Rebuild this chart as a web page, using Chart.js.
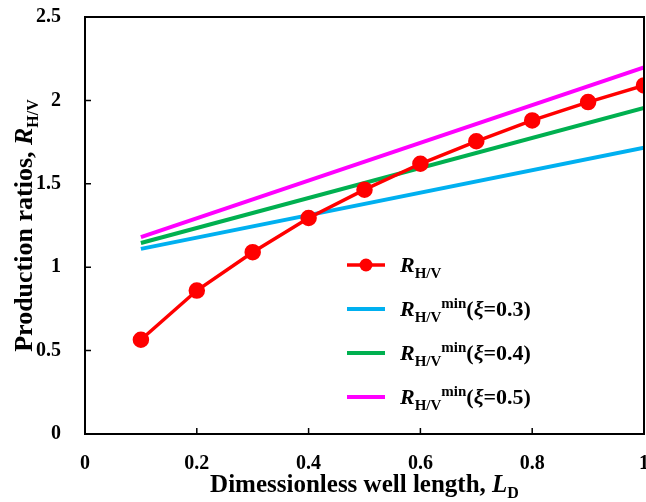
<!DOCTYPE html>
<html>
<head>
<meta charset="utf-8">
<script src="https://cdn.jsdelivr.net/npm/chart.js@4"></script>
<style>
  html, body { margin: 0; padding: 0; background: #fff; }
  #wrap { width: 646px; height: 502px; }
</style>
</head>
<body>
<div id="wrap"><canvas id="chart" width="646" height="502"></canvas></div>
<script>
// data
const xValues = [0.1, 0.2, 0.3, 0.4, 0.5, 0.6, 0.7, 0.8, 0.9, 1.0];
const ratioValues = [0.565, 0.86, 1.09, 1.295, 1.465, 1.62, 1.755, 1.88, 1.99, 2.09];
const lineEnds = [0.1, 1.0];
const min03 = [1.11, 1.717];
const min04 = [1.145, 1.955];
const min05 = [1.18, 2.198];
const xTicks = [0, 0.2, 0.4, 0.6, 0.8, 1];
const xTickLabels = ['0', '0.2', '0.4', '0.6', '0.8', '1'];
const yTicks = [0, 0.5, 1, 1.5, 2, 2.5];
const yTickLabels = ['0', '0.5', '1', '1.5', '2', '2.5'];

const SERIF = '"Liberation Serif", "Times New Roman", serif';

function pts(xs, ys) {
    return xs.map((x, i) => ({ x: x, y: ys[i] }));
}

// rich text: list of [text, font, dy]
function richWidth(ctx, segs) {
    let w = 0;
    segs.forEach(s => { ctx.font = s[1]; w += ctx.measureText(s[0]).width; });
    return w;
}
function drawRich(ctx, segs, x, y) {
    segs.forEach(s => {
        ctx.font = s[1];
        ctx.fillText(s[0], x, y + (s[2] || 0));
        x += ctx.measureText(s[0]).width;
    });
}

const XB = 'bold 25px ' + SERIF;
const XBI = 'italic bold 25px ' + SERIF;
const YB = 'bold 26px ' + SERIF;
const YBI = 'italic bold 26px ' + SERIF;
const SB = 'bold 16px ' + SERIF;
const LS = 'bold 15px ' + SERIF;
const LB = 'bold 22px ' + SERIF;
const LBI = 'italic bold 22px ' + SERIF;

function minLabel(xi) {
    return [['R', LBI, 0], ['H/V', LS, 6], ['min', LS, -8], ['(', LB, 0], ['ξ', LBI, 0], ['=' + xi + ')', LB, 0]];
}

const datasets = [
    {
        label: 'R_H/V',
        data: pts(xValues, ratioValues),
        borderColor: '#ff0000',
        backgroundColor: '#ff0000',
        borderWidth: 3.5,
        pointRadius: 6.5,
        pointHoverRadius: 6.5,
        legendText: [['R', LBI, 0], ['H/V', LS, 6]]
    },
    {
        label: 'R_H/V^min(xi=0.3)',
        data: pts(lineEnds, min03),
        borderColor: '#00b0f0',
        borderWidth: 4,
        pointRadius: 0,
        legendText: minLabel('0.3')
    },
    {
        label: 'R_H/V^min(xi=0.4)',
        data: pts(lineEnds, min04),
        borderColor: '#00b050',
        borderWidth: 4,
        pointRadius: 0,
        legendText: minLabel('0.4')
    },
    {
        label: 'R_H/V^min(xi=0.5)',
        data: pts(lineEnds, min05),
        borderColor: '#ff00ff',
        borderWidth: 4,
        pointRadius: 0,
        legendText: minLabel('0.5')
    }
];

const decor = {
    id: 'decor',
    afterDatasetsDraw(chart) {
        const ctx = chart.ctx;
        const a = chart.chartArea;
        const xs = chart.scales.x, ys = chart.scales.y;
        ctx.save();
        // frame
        ctx.strokeStyle = '#000';
        ctx.lineWidth = 2;
        ctx.strokeRect(a.left, a.top, a.right - a.left, a.bottom - a.top);
        // inward ticks
        ctx.lineWidth = 1.5;
        ctx.beginPath();
        xTicks.forEach(v => {
            const px = xs.getPixelForValue(v);
            ctx.moveTo(px, a.bottom);
            ctx.lineTo(px, a.bottom - 6);
        });
        yTicks.forEach(v => {
            const py = ys.getPixelForValue(v);
            ctx.moveTo(a.left, py);
            ctx.lineTo(a.left + 6, py);
        });
        ctx.stroke();

        // legend
        ctx.fillStyle = '#000';
        ctx.textBaseline = 'alphabetic';
        const rowY = [265, 309, 353, 397];
        chart.data.datasets.forEach((ds, i) => {
            const y = rowY[i];
            ctx.strokeStyle = ds.borderColor;
            ctx.lineWidth = ds.borderWidth;
            ctx.beginPath();
            ctx.moveTo(347, y);
            ctx.lineTo(385, y);
            ctx.stroke();
            if (ds.pointRadius) {
                ctx.fillStyle = ds.backgroundColor;
                ctx.beginPath();
                ctx.arc(366, y, ds.pointRadius, 0, Math.PI * 2);
                ctx.fill();
            }
            ctx.fillStyle = '#000';
            drawRich(ctx, ds.legendText, 400, y + 7);
        });

        // axis titles
        const xt = [['Dimessionless well length, ', XB, 0], ['L', XBI, 0], ['D', SB, 6]];
        const xw = richWidth(ctx, xt);
        drawRich(ctx, xt, (a.left + a.right) / 2 - xw / 2, 492);

        const yt = [['Production ratios, ', YB, 0], ['R', YBI, 0], ['H/V', SB, 6]];
        const yw = richWidth(ctx, yt);
        ctx.translate(32, (a.top + a.bottom) / 2);
        ctx.rotate(-Math.PI / 2);
        drawRich(ctx, yt, -yw / 2, 0);
        ctx.restore();
    }
};

const tickFont = { family: SERIF, size: 20, weight: 'bold' };

new Chart(document.getElementById('chart').getContext('2d'), {
    type: 'line',
    data: { datasets: datasets },
    options: {
        responsive: false,
        animation: false,
        events: [],
        layout: { autoPadding: false, padding: { left: 0, right: 2, top: 17, bottom: 0 } },
        plugins: {
            legend: { display: false },
            tooltip: { enabled: false }
        },
        scales: {
            x: {
                type: 'linear',
                min: 0,
                max: 1,
                grid: { display: false },
                border: { display: false },
                afterBuildTicks: s => { s.ticks = xTicks.map(v => ({ value: v })); },
                afterFit: s => { s.height = 68; s.paddingLeft = 0; s.paddingRight = 0; },
                ticks: {
                    color: '#000',
                    font: tickFont,
                    padding: 10,
                    maxRotation: 0,
                    callback: (v, i) => xTickLabels[i]
                }
            },
            y: {
                type: 'linear',
                min: 0,
                max: 2.5,
                grid: { display: false },
                border: { display: false },
                afterBuildTicks: s => { s.ticks = yTicks.map(v => ({ value: v })); },
                afterFit: s => { s.width = 85; s.paddingTop = 0; s.paddingBottom = 0; },
                ticks: {
                    color: '#000',
                    font: tickFont,
                    padding: 16,
                    callback: (v, i) => yTickLabels[i]
                }
            }
        }
    },
    plugins: [decor]
});
</script>
</body>
</html>
